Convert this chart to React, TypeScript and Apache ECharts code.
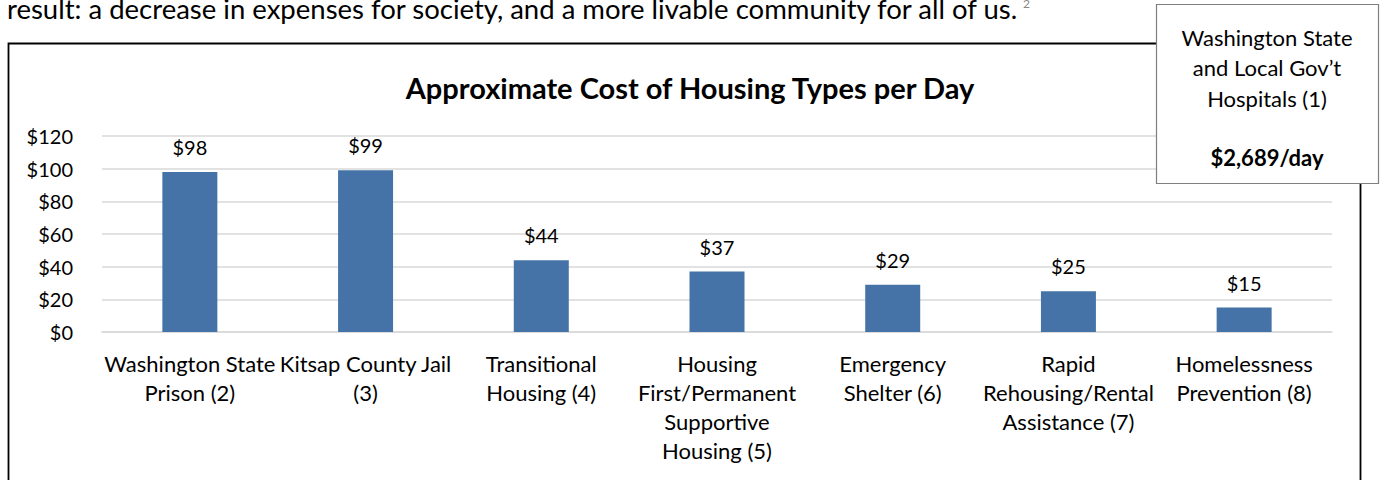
import React, { useEffect, useRef } from "react";
import * as echarts from "echarts";

const categories: string[] = [
  "Washington State\nPrison (2)",
  "Kitsap County Jail\n(3)",
  "Transitional\nHousing (4)",
  "Housing\nFirst/Permanent\nSupportive\nHousing (5)",
  "Emergency\nShelter (6)",
  "Rapid\nRehousing/Rental\nAssistance (7)",
  "Homelessness\nPrevention (8)",
];
const costPerDay: number[] = [98, 99, 44, 37, 29, 25, 15];
const yTicks: number[] = [0, 20, 40, 60, 80, 100, 120];
const chartTitle = "Approximate Cost of Housing Types per Day";
const introText =
  "result: a decrease in expenses for society, and a more livable community for all of us.";
const footnote = "2";
const hospitalLines: string[] = ["Washington State", "and Local Gov\u2019t", "Hospitals (1)"];
const hospitalCost = "$2,689/day";

const FONT = "Lato, 'Noto Sans', sans-serif";

export default function App() {
  const ref = useRef<HTMLDivElement>(null);
  useEffect(() => {
    if (!ref.current) return;
    const chart = echarts.init(ref.current, undefined, { renderer: "svg" });
    const yMax = yTicks[yTicks.length - 1];
    const yInterval = yTicks[1] - yTicks[0];
    chart.setOption({
      animation: false,
      backgroundColor: "#ffffff",
      textStyle: { fontFamily: FONT },
      title: {
        text: chartTitle,
        left: 685,
        textAlign: "center",
        top: 68,
        textStyle: { fontFamily: FONT, fontSize: 29, fontWeight: "bold", color: "#000" },
      },
      grid: { left: 102, right: 53, top: 136, bottom: 148, containLabel: false },
      xAxis: {
        type: "category",
        data: categories,
        axisLine: { show: true, lineStyle: { color: "#d9d9d9", width: 1.5 } },
        axisTick: { show: false },
        axisLabel: {
          interval: 0,
          margin: 17,
          fontFamily: FONT,
          fontSize: 22,
          lineHeight: 29,
          color: "#000",
          align: "center",
        },
      },
      yAxis: {
        type: "value",
        min: 0,
        max: yMax,
        interval: yInterval,
        axisLine: { show: false },
        axisTick: { show: false },
        splitLine: { lineStyle: { color: "#d9d9d9", width: 1.5 } },
        axisLabel: {
          margin: 29,
          fontFamily: FONT,
          fontSize: 20,
          color: "#000",
          formatter: (v: number) => "$" + v,
        },
      },
      series: [
        {
          type: "bar",
          data: costPerDay,
          barWidth: 55,
          itemStyle: { color: "#4573a7" },
          label: {
            show: true,
            position: "top",
            distance: 15,
            fontFamily: FONT,
            fontSize: 20,
            color: "#000",
            formatter: (p: any) => "$" + p.value,
          },
        },
      ],
      graphic: [
        {
          type: "text",
          x: 7,
          y: -6,
          style: { text: introText, fontFamily: FONT, fontSize: 27.5, fill: "#000", verticalAlign: "top" },
        },
        {
          type: "text",
          x: 1023,
          y: -3,
          style: { text: footnote, fontFamily: FONT, fontSize: 12, fill: "#888", verticalAlign: "top" },
        },
        {
          type: "rect",
          shape: { x: 8.5, y: 43.5, width: 1352, height: 500 },
          style: { fill: "none", stroke: "#000", lineWidth: 1.8 },
          silent: true,
        },
        {
          type: "rect",
          shape: { x: 1156.5, y: 4.5, width: 222, height: 179 },
          style: { fill: "#fff", stroke: "#7f7f7f", lineWidth: 1.2 },
          z: 100,
        },
        ...hospitalLines.map((t, i) => ({
          type: "text",
          x: 1267,
          y: 37 + i * 30.5,
          z: 101,
          style: {
            text: t,
            fontFamily: FONT,
            fontSize: 22,
            fill: "#000",
            align: "center",
            verticalAlign: "middle",
          },
        })),
        {
          type: "text",
          x: 1267,
          y: 157,
          z: 101,
          style: {
            text: hospitalCost,
            fontFamily: FONT,
            fontSize: 22,
            fontWeight: "bold",
            fill: "#000",
            align: "center",
            verticalAlign: "middle",
          },
        },
      ],
    });
    return () => chart.dispose();
  }, []);
  return (
    <div
      ref={ref}
      style={{ position: "fixed", left: 0, top: 0, width: 1385, height: 480, background: "#fff" }}
    />
  );
}
